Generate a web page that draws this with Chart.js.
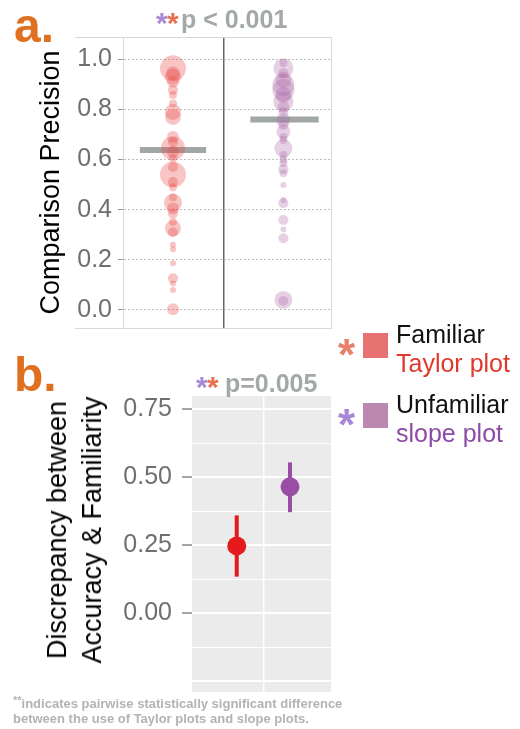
<!DOCTYPE html>
<html>
<head>
<meta charset="utf-8">
<script src="https://cdn.jsdelivr.net/npm/chart.js@4.4.1/dist/chart.umd.min.js"></script>
<style>
body { margin: 0; width: 520px; height: 729px; position: relative; background: #fff; overflow: hidden;
       font-family: "Liberation Sans", Arial, sans-serif; }
canvas { position: absolute; left: 0; }
.txt { position: absolute; white-space: nowrap; line-height: 1; }
.panel { font-weight: bold; font-size: 48px; color: #e07020; }
.ptitle { font-weight: bold; font-size: 25px; color: #a3a8a8; }
.star { font-weight: bold; }
.leg { font-size: 25px; }
.sq { position: absolute; width: 25px; height: 25px; }
.note { font-weight: bold; font-size: 13px; color: #b3b3b3; left: 13px; }
.ytitle { position: absolute; left: 75px; top: 530px; transform: translate(-50%, -50%) rotate(-90deg);
          font-size: 27px; line-height: 35px; text-align: center; white-space: nowrap; color: #000; }
</style>
</head>
<body>
<canvas id="precision" width="340" height="340" style="top:0"></canvas>
<canvas id="discrepancy" width="340" height="360" style="top:340px"></canvas>

<div class="txt panel" style="left:14px;top:2px">a.</div>
<div class="txt panel" style="left:14px;top:351px">b.</div>

<div class="txt star" style="left:156px;top:8px;font-size:30px;color:#a887d4">*</div>
<div class="txt star" style="left:167px;top:8px;font-size:30px;color:#e8704e">*</div>
<div class="txt ptitle" style="left:181px;top:7px">p &lt; 0.001</div>

<div class="txt star" style="left:196px;top:372px;font-size:30px;color:#a887d4">*</div>
<div class="txt star" style="left:207px;top:372px;font-size:30px;color:#e8704e">*</div>
<div class="txt ptitle" style="left:225px;top:371px">p=0.005</div>

<div class="ytitle">Discrepancy between<br>Accuracy &amp; Familiarity</div>

<div class="txt star" style="left:338px;top:333px;font-size:44px;color:#e8806a">*</div>
<div class="sq" style="left:363px;top:333px;background:#e87272"></div>
<div class="txt leg" style="left:396px;top:322px;color:#111">Familiar</div>
<div class="txt leg" style="left:396px;top:351px;color:#e0392b">Taylor plot</div>

<div class="txt star" style="left:338px;top:403px;font-size:44px;color:#a887d4">*</div>
<div class="sq" style="left:363px;top:403px;background:#bb88b0"></div>
<div class="txt leg" style="left:396px;top:392px;color:#111">Unfamiliar</div>
<div class="txt leg" style="left:396px;top:421px;color:#8e4aa6">slope plot</div>

<div class="txt note" style="top:697px"><span style="font-size:11px;position:relative;top:-4px">**</span>indicates pairwise statistically significant difference</div>
<div class="txt note" style="top:712px">between the use of Taylor plots and slope plots.</div>

<script>
// panel a: per-participant comparison precision, dot size = number of trials
const familiarPrecision = [0.964, 0.944, 0.93, 0.91, 0.878, 0.858, 0.824, 0.79, 0.77, 0.69, 0.67, 0.645, 0.63, 0.605,
  0.57, 0.54, 0.51, 0.49, 0.45, 0.428, 0.405, 0.385, 0.352, 0.326, 0.31, 0.26, 0.242, 0.186, 0.126, 0.106, 0.08, 0.003];
const familiarSize = [13, 7, 8, 6, 5, 4, 4, 8, 8, 6, 5, 12, 6, 4,
  5, 13, 5, 4, 4, 9, 6, 5, 4, 8, 5, 3, 3, 3, 5, 3, 3, 6];
const unfamiliarPrecision = [0.985, 0.964, 0.944, 0.917, 0.898, 0.878, 0.858, 0.831, 0.81, 0.79, 0.758, 0.738, 0.711,
  0.69, 0.678, 0.645, 0.618, 0.60, 0.585, 0.561, 0.545, 0.499, 0.439, 0.426, 0.359, 0.322, 0.286, 0.04, 0.036];
const unfamiliarSize = [4, 10, 5, 8, 11, 11, 8, 10, 6, 5, 7, 5, 7,
  4, 4, 9, 4, 4, 4, 5, 4, 3, 3, 5, 5, 3, 5, 9, 5];
const meanPrecision = [0.638, 0.76];

// panel b: mean discrepancy with interval
const discrepancyMean = [0.248, 0.465];
const discrepancyLow = [0.135, 0.372];
const discrepancyHigh = [0.36, 0.555];

const precisionTicks = [0, 0.2, 0.4, 0.6, 0.8, 1.0];
const discrepancyTicks = [0, 0.25, 0.5, 0.75];

const groupColor = ['rgba(232,70,70,0.32)', 'rgba(170,100,165,0.3)'];
const pointColor = ['#e41a1c', '#984ea3'];
const tickFont = { family: 'Liberation Sans', size: 25 };
const titleFont = { family: 'Liberation Sans', size: 27 };

// stroke a frame around the plot area of panel a
const framePlugin = {
  id: 'frame',
  afterDraw(chart, args, opts) {
    if (!opts.on) return;
    const { ctx, chartArea: a } = chart;
    ctx.save();
    ctx.strokeStyle = '#d8d8d8';
    ctx.lineWidth = 1;
    ctx.beginPath();
    ctx.moveTo(75, a.top + 0.5); ctx.lineTo(a.right, a.top + 0.5);
    ctx.moveTo(75, a.bottom + 0.5); ctx.lineTo(a.right, a.bottom + 0.5);
    ctx.moveTo(a.right - 0.5, a.top); ctx.lineTo(a.right - 0.5, a.bottom);
    ctx.stroke();
    ctx.restore();
  }
};
// grey panel background for panel b
const panelBg = {
  id: 'panelBg',
  beforeDraw(chart, args, opts) {
    if (!opts.color) return;
    const { ctx, chartArea: a } = chart;
    ctx.save();
    ctx.fillStyle = opts.color;
    ctx.fillRect(a.left, a.top, a.right - a.left, a.bottom - a.top);
    ctx.restore();
  }
};
Chart.register(framePlugin, panelBg);

function dots(values, sizes, x, color) {
  return {
    type: 'scatter',
    data: values.map(v => ({ x: x, y: v })),
    pointRadius: sizes,
    pointBackgroundColor: color,
    pointBorderWidth: 0
  };
}

function segment(x0, x1, y0, y1, color, width) {
  return {
    type: 'line',
    data: [{ x: x0, y: y0 }, { x: x1, y: y1 }],
    borderColor: color,
    borderWidth: width,
    borderCapStyle: 'butt',
    pointRadius: 0,
    showLine: true
  };
}

// fixed axis width, and no extra room for the end labels
function fixWidth(w) {
  return s => { s.width = w; s.paddingTop = 0; s.paddingBottom = 0; };
}

const isMultiple = (v, step) => Math.abs(v / step - Math.round(v / step)) < 1e-6;

new Chart(document.getElementById('precision'), {
  type: 'scatter',
  data: {
    datasets: [
      dots(familiarPrecision, familiarSize, 0, groupColor[0]),
      dots(unfamiliarPrecision, unfamiliarSize, 1, groupColor[1]),
      segment(-0.3, 0.3, meanPrecision[0], meanPrecision[0], 'rgba(125,133,133,0.72)', 6),
      segment(0.7, 1.32, meanPrecision[1], meanPrecision[1], 'rgba(125,133,133,0.72)', 6)
    ]
  },
  options: {
    responsive: false,
    animation: false,
    layout: { autoPadding: false, padding: { top: 37, bottom: 12, right: 8, left: 0 } },
    plugins: { legend: { display: false }, tooltip: { enabled: false }, frame: { on: true } },
    scales: {
      x: {
        type: 'linear', min: -0.4525, max: 1.44,
        afterBuildTicks: s => { s.ticks = [{ value: 0.4615 }]; },
        afterFit: s => { s.height = 0; },
        ticks: { display: false },
        grid: { color: '#666', lineWidth: 1.5, drawTicks: false },
        border: { display: false }
      },
      y: {
        min: -0.072, max: 1.089,
        afterFit: fixWidth(123),
        ticks: {
          stepSize: 0.1, includeBounds: false, padding: 6,
          color: '#6f6f6f', font: tickFont,
          callback: v => precisionTicks.some(t => Math.abs(t - v) < 1e-6) ? v.toFixed(1) : ''
        },
        grid: { color: '#bdbdbd', lineWidth: 1, tickLength: 5, tickColor: '#999' },
        border: { color: '#d8d8d8', dash: [2, 2] },
        title: { display: true, text: 'Comparison Precision', color: '#000', font: titleFont, padding: { top: 35, bottom: 0 } }
      }
    }
  }
});

new Chart(document.getElementById('discrepancy'), {
  type: 'scatter',
  data: {
    datasets: [
      segment(0, 0, discrepancyLow[0], discrepancyHigh[0], pointColor[0], 4),
      segment(1, 1, discrepancyLow[1], discrepancyHigh[1], pointColor[1], 4),
      {
        type: 'scatter',
        data: discrepancyMean.map((v, i) => ({ x: i, y: v })),
        pointRadius: 9.5,
        pointBackgroundColor: pointColor,
        pointBorderWidth: 0
      }
    ]
  },
  options: {
    responsive: false,
    animation: false,
    layout: { autoPadding: false, padding: { top: 56, bottom: 8, right: 9, left: 0 } },
    plugins: { legend: { display: false }, tooltip: { enabled: false }, panelBg: { color: '#ebebeb' } },
    scales: {
      x: {
        type: 'linear', min: -0.84, max: 1.77,
        afterBuildTicks: s => { s.ticks = [{ value: 0.5 }]; },
        afterFit: s => { s.height = 0; },
        ticks: { display: false },
        grid: { color: '#fff', lineWidth: 1.5, drawTicks: false },
        border: { display: false }
      },
      y: {
        min: -0.289, max: 0.799,
        afterFit: fixWidth(192),
        ticks: {
          stepSize: 0.125, includeBounds: false, padding: 10,
          color: '#6f6f6f', font: tickFont,
          callback: v => discrepancyTicks.some(t => Math.abs(t - v) < 1e-6) ? v.toFixed(2) : ''
        },
        grid: {
          color: '#fff',
          lineWidth: c => isMultiple(c.tick.value, 0.25) ? 2 : 1,
          tickLength: 10,
          tickColor: c => discrepancyTicks.some(t => Math.abs(t - c.tick.value) < 1e-6) ? '#888' : 'rgba(0,0,0,0)',
          tickWidth: 1.5
        },
        border: { display: false }
      }
    }
  }
});
</script>
</body>
</html>
